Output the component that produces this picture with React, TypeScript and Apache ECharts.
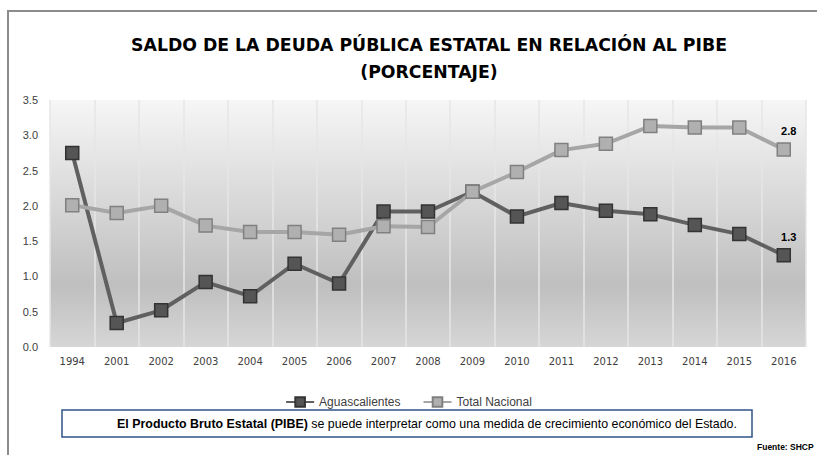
import React, { useEffect, useRef } from "react";
import * as echarts from "echarts";

const years = ["1994", "2001", "2002", "2003", "2004", "2005", "2006", "2007", "2008", "2009", "2010", "2011", "2012", "2013", "2014", "2015", "2016"];
const aguascalientes = [2.75, 0.34, 0.52, 0.92, 0.72, 1.18, 0.9, 1.92, 1.92, 2.2, 1.85, 2.04, 1.93, 1.88, 1.73, 1.6, 1.3];
const totalNacional = [2.01, 1.9, 2.0, 1.72, 1.63, 1.63, 1.59, 1.71, 1.7, 2.2, 2.48, 2.79, 2.88, 3.13, 3.11, 3.11, 2.8];
const yTicks = { min: 0, max: 3.5, interval: 0.5 };
const titleLines = ["SALDO DE LA DEUDA PÚBLICA ESTATAL EN RELACIÓN AL PIBE", "(PORCENTAJE)"];
const noteBold = "El Producto Bruto Estatal (PIBE)";
const noteRest = " se puede interpretar como una medida de crecimiento económico del Estado.";
const source = "Fuente: SHCP";

const lastLabel = (vals: number[]) =>
  vals.map((v, i) =>
    i === vals.length - 1
      ? { value: v, label: { show: true, position: "top", offset: [5, -1], fontWeight: "bold", fontSize: 11, color: "#000", fontFamily: "Liberation Sans", formatter: (p: any) => p.value.toFixed(1) } }
      : v
  );

export default function App() {
  const ref = useRef<HTMLDivElement>(null);
  useEffect(() => {
    const chart = echarts.init(ref.current!, null, { renderer: "svg" });
    chart.setOption({
      animation: false,
      backgroundColor: "#ffffff",
      grid: {
        left: 50,
        right: 11,
        top: 100,
        bottom: 108,
        show: true,
        borderWidth: 0,
        backgroundColor: new echarts.graphic.LinearGradient(0, 0, 0, 1, [
          { offset: 0, color: "#f6f6f6" },
          { offset: 0.75, color: "#bfbfbf" },
          { offset: 1, color: "#d6d6d6" },
        ]),
      },
      legend: {
        data: ["Aguascalientes", "Total Nacional"],
        left: "center",
        top: 391,
        itemWidth: 28,
        itemHeight: 12,
        itemGap: 22,
        textStyle: { fontFamily: "Liberation Sans", fontSize: 12, color: "#404040" },
      },
      xAxis: {
        type: "category",
        data: years,
        boundaryGap: true,
        axisLine: { show: false },
        axisTick: { show: false },
        splitLine: { show: true, interval: 0, lineStyle: { color: "#e6e6e6", width: 1.5 } },
        axisLabel: { interval: 0, margin: 9, fontFamily: "DejaVu Sans", fontSize: 10, color: "#404040" },
      },
      yAxis: {
        type: "value",
        min: yTicks.min,
        max: yTicks.max,
        interval: yTicks.interval,
        axisLine: { show: false },
        axisTick: { show: false },
        splitLine: { show: false },
        axisLabel: { margin: 12, fontFamily: "Liberation Sans", fontSize: 11, color: "#404040", formatter: (v: number) => v.toFixed(1) },
      },
      series: [
        {
          name: "Aguascalientes",
          type: "line",
          data: lastLabel(aguascalientes),
          symbol: "rect",
          symbolSize: 13,
          z: 2,
          lineStyle: { color: "#606060", width: 4 },
          itemStyle: { color: "#555555", borderColor: "#333333", borderWidth: 1.5 },
        },
        {
          name: "Total Nacional",
          type: "line",
          data: lastLabel(totalNacional),
          symbol: "rect",
          symbolSize: 13,
          z: 3,
          lineStyle: { color: "#a6a6a6", width: 4 },
          itemStyle: { color: "#b0b0b0", borderColor: "#808080", borderWidth: 1.5 },
        },
      ],
      graphic: [
        {
          type: "polyline",
          shape: { points: [[8, 455], [8, 11], [817, 11]] },
          style: { stroke: "#8c8c8c", lineWidth: 2, fill: "none" },
          silent: true,
        },
        {
          type: "text",
          x: 429,
          y: 45,
          style: { text: titleLines[0], fontFamily: "DejaVu Sans", fontWeight: "bold", fontSize: 17.3, fill: "#000", align: "center", verticalAlign: "middle" },
        },
        {
          type: "text",
          x: 429,
          y: 72,
          style: { text: titleLines[1], fontFamily: "DejaVu Sans", fontWeight: "bold", fontSize: 17.3, fill: "#000", align: "center", verticalAlign: "middle" },
        },
        {
          type: "rect",
          shape: { x: 62, y: 410, width: 690, height: 27 },
          style: { fill: "#ffffff", stroke: "#2f5488", lineWidth: 1.5 },
        },
        {
          type: "text",
          x: 427,
          y: 424,
          style: {
            text: "{b|" + noteBold + "}{r|" + noteRest + "}",
            align: "center",
            verticalAlign: "middle",
            rich: {
              b: { fontFamily: "Liberation Sans", fontWeight: "bold", fontSize: 12.4, fill: "#000" },
              r: { fontFamily: "Liberation Sans", fontSize: 12.4, fill: "#000" },
            },
          },
        },
        {
          type: "text",
          x: 757,
          y: 447,
          style: { text: source, fontFamily: "Liberation Sans", fontWeight: "bold", fontSize: 8.5, fill: "#000", verticalAlign: "middle" },
        },
      ],
    });
    return () => chart.dispose();
  }, []);
  return <div ref={ref} style={{ position: "fixed", left: 0, top: 0, width: 817, height: 455 }} />;
}
